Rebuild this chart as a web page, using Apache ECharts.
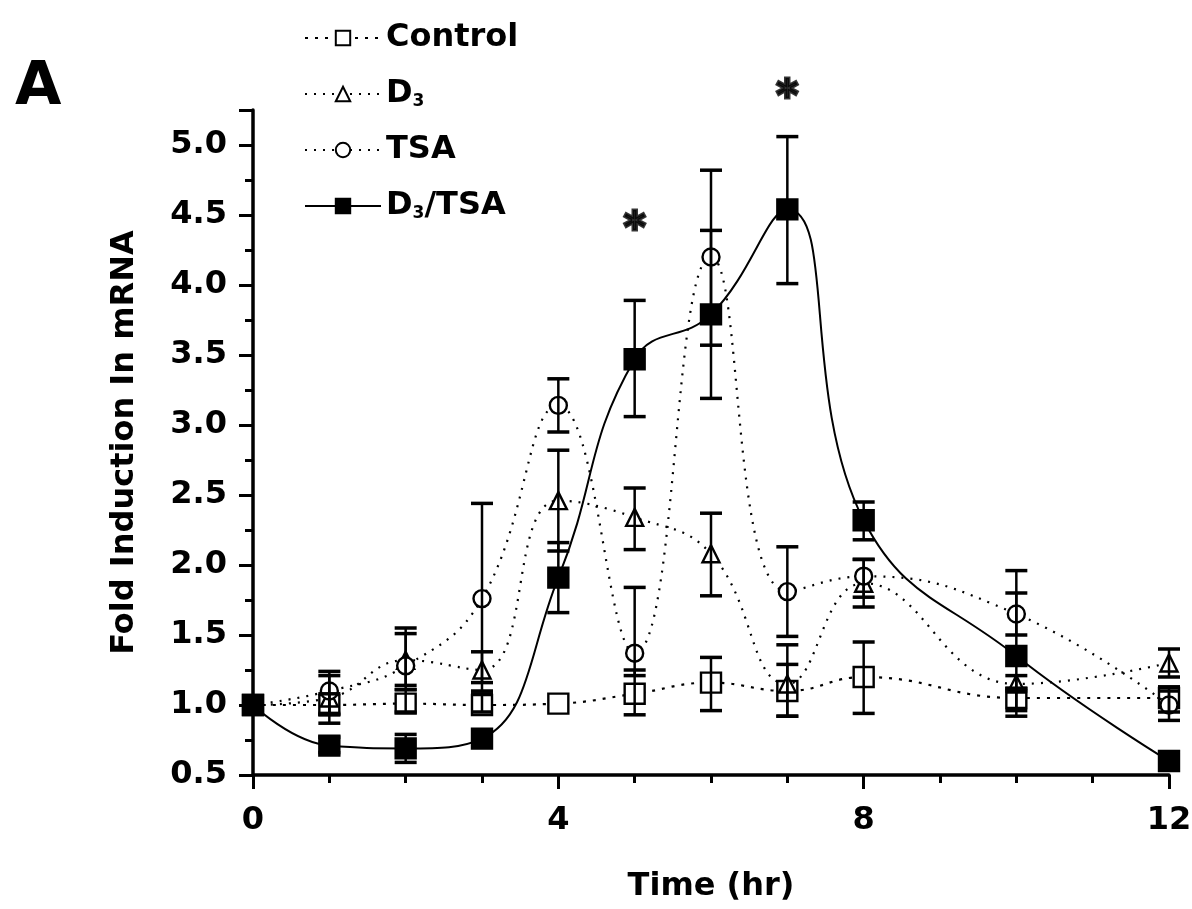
<!DOCTYPE html>
<html>
<head>
<meta charset="utf-8">
<title>Fold induction in mRNA</title>
<script src="https://cdn.jsdelivr.net/npm/echarts@6/dist/echarts.min.js"></script>
<style>
  html, body { margin: 0; padding: 0; background: #fff; }
  #chart { width: 1192px; height: 909px; }
</style>
</head>
<body>
<div id="chart"></div>
<script>
// time points (hr)
const timeHr = [0, 1, 2, 3, 4, 5, 6, 7, 8, 10, 12];
const yTicks = [0.5, 1.0, 1.5, 2.0, 2.5, 3.0, 3.5, 4.0, 4.5, 5.0];
const xTicks = [0, 4, 8, 12];

// means
const controlMean = [1.0, 1.0, 1.01, 1.0, 1.01, 1.08, 1.16, 1.1, 1.2, 1.05, 1.05];
const d3Mean      = [1.0, 1.05, 1.32, 1.25, 2.46, 2.34, 2.08, 1.15, 1.87, 1.15, 1.3];
const tsaMean     = [1.0, 1.1, 1.28, 1.76, 3.14, 1.37, 4.2, 1.81, 1.92, 1.65, 1.0];
const comboMean   = [1.0, 0.71, 0.69, 0.76, 1.91, 3.47, 3.79, 4.54, 2.32, 1.35, 0.6];

// error bar ends (null = no bar visible)
const controlLow  = [null, 0.93, 0.95, 0.95, null, 0.93, 0.96, 0.92, 0.94, 0.96, 0.95];
const controlHigh = [null, 1.08, 1.11, 1.08, null, 1.25, 1.34, 1.29, 1.45, 1.12, 1.13];
const d3Low       = [null, 0.87, 1.11, 1.16, 2.10, 2.11, 1.78, 0.92, 1.70, 1.10, 1.20];
const d3High      = [null, 1.21, 1.51, 1.38, 2.82, 2.55, 2.37, 1.43, 2.04, 1.21, 1.40];
const tsaLow      = [null, 0.94, 1.14, 1.10, 2.95, 1.21, 3.57, 1.49, 1.77, 1.50, 0.89];
const tsaHigh     = [null, 1.24, 1.55, 2.44, 3.33, 1.84, 4.39, 2.13, 2.04, 1.80, 1.10];
const comboLow    = [null, 0.66, 0.59, 0.72, 1.66, 3.06, 3.19, 4.01, 2.18, 0.92, null];
const comboHigh   = [null, 0.77, 0.79, 0.80, 2.16, 3.89, 4.82, 5.06, 2.45, 1.96, null];

// significance marks
const starPoints = [[5, 4.45], [7, 5.39]];

const FONT = "'DejaVu Sans', 'Liberation Sans', sans-serif";

function pairs(mean) {
  return timeHr.map((t, i) => [t, mean[i]]);
}
function bars(low, high) {
  return timeHr
    .map((t, i) => [t, low[i], high[i]])
    .filter(d => d[1] != null);
}

function renderErrorBar(params, api) {
  const x = api.value(0);
  const top = api.coord([x, api.value(2)]);
  const bot = api.coord([x, api.value(1)]);
  const w = 11;
  const stem = { stroke: '#000', lineWidth: 2.5 };
  const cap = { stroke: '#000', lineWidth: 3.5 };
  return {
    type: 'group',
    children: [
      { type: 'line', shape: { x1: top[0], y1: top[1], x2: bot[0], y2: bot[1] }, style: stem },
      { type: 'line', shape: { x1: top[0] - w, y1: top[1], x2: top[0] + w, y2: top[1] }, style: cap },
      { type: 'line', shape: { x1: bot[0] - w, y1: bot[1], x2: bot[0] + w, y2: bot[1] }, style: cap }
    ]
  };
}

function lineSeries(name, data, symbol, size, filled, dash, z) {
  return {
    name: name,
    type: 'line',
    data: data,
    smooth: 0.45,
    symbol: symbol,
    symbolSize: size,
    showAllSymbol: true,
    z: z,
    lineStyle: { color: '#000', width: dash === 'solid' ? 2 : 2.2, type: dash },
    itemStyle: { color: filled ? '#000' : '#fff', borderColor: '#000', borderWidth: 2.4 },
    emphasis: { disabled: true }
  };
}

function errorSeries(data, z) {
  return {
    type: 'custom',
    data: data,
    renderItem: renderErrorBar,
    z: z,
    silent: true
  };
}

const chart = echarts.init(document.getElementById('chart'), null, { renderer: 'canvas' });

const option = {
  backgroundColor: '#fff',
  animation: false,
  textStyle: { fontFamily: FONT },
  grid: { left: 253, right: 23, top: 110, bottom: 134, containLabel: false, outerBoundsMode: 'none' },
  legend: {
    data: ['Control', 'D3', 'TSA', 'D3/TSA'],
    orient: 'vertical',
    left: 299,
    top: 14,
    itemWidth: 76,
    itemHeight: 18,
    itemGap: 18,
    selectedMode: false,
    formatter: function (name) {
      if (name === 'D3') return 'D{sub|3}';
      if (name === 'D3/TSA') return 'D{sub|3}/TSA';
      return name;
    },
    textStyle: {
      fontFamily: FONT,
      fontSize: 32,
      fontWeight: 'bold',
      color: '#000',
      lineHeight: 38,
      rich: {
        sub: { fontFamily: FONT, fontSize: 17, fontWeight: 'bold', color: '#000', padding: [16, 0, 0, 0] }
      }
    }
  },
  graphic: [
    {
      type: 'text',
      left: 15,
      top: 58,
      style: { text: 'A', fontFamily: FONT, fontSize: 60, fontWeight: 'bold', fill: '#000' }
    }
  ],
  xAxis: {
    type: 'value',
    min: 0,
    max: 12,
    interval: 4,
    name: 'Time (hr)',
    nameLocation: 'middle',
    nameGap: 96,
    nameTextStyle: { fontFamily: FONT, fontSize: 32, fontWeight: 'bold', color: '#000' },
    axisLine: { onZero: false, lineStyle: { color: '#000', width: 3.5 } },
    axisTick: { show: true, length: 14, lineStyle: { color: '#000', width: 3 } },
    minorTick: { show: true, splitNumber: 4, length: 8, lineStyle: { color: '#000', width: 3 } },
    axisLabel: {
      margin: 30,
      fontFamily: FONT,
      fontSize: 32,
      fontWeight: 'bold',
      color: '#000',
      formatter: v => (xTicks.indexOf(v) >= 0 ? String(v) : '')
    },
    splitLine: { show: false }
  },
  yAxis: {
    type: 'value',
    min: 0.5,
    max: 5.25,
    interval: 0.5,
    name: 'Fold Induction In mRNA',
    nameLocation: 'middle',
    nameGap: 112,
    nameTextStyle: { fontFamily: FONT, fontSize: 32, fontWeight: 'bold', color: '#000' },
    axisLine: { show: true, onZero: false, lineStyle: { color: '#000', width: 3.5 } },
    axisTick: { show: true, length: 14, lineStyle: { color: '#000', width: 3 } },
    minorTick: { show: true, splitNumber: 2, length: 8, lineStyle: { color: '#000', width: 3 } },
    axisLabel: {
      margin: 26,
      fontFamily: FONT,
      fontSize: 32,
      fontWeight: 'bold',
      color: '#000',
      formatter: function (v) {
        const hit = yTicks.find(t => Math.abs(t - v) < 1e-6);
        return hit === undefined ? '' : hit.toFixed(1);
      }
    },
    splitLine: { show: false }
  },
  series: [
    lineSeries('Control', pairs(controlMean), 'rect', 20, false, [3, 7], 3),
    lineSeries('D3', pairs(d3Mean), 'triangle', 17, false, [2, 7], 4),
    lineSeries('TSA', pairs(tsaMean), 'circle', 17, false, [2, 7], 5),
    lineSeries('D3/TSA', pairs(comboMean), 'rect', 20, true, 'solid', 6),
    errorSeries(bars(controlLow, controlHigh), 7),
    errorSeries(bars(d3Low, d3High), 7),
    errorSeries(bars(tsaLow, tsaHigh), 7),
    errorSeries(bars(comboLow, comboHigh), 8),
    {
      type: 'scatter',
      data: starPoints,
      symbolSize: 1,
      clip: false,
      silent: true,
      itemStyle: { color: 'rgba(0,0,0,0)' },
      label: {
        show: true,
        position: 'inside',
        formatter: '*',
        offset: [0, 9],
        fontFamily: FONT,
        fontSize: 42,
        fontWeight: 'bold',
        color: '#000',
        textBorderColor: '#000',
        textBorderWidth: 3
      },
      z: 9
    }
  ]
};

chart.setOption(option);
</script>
</body>
</html>
